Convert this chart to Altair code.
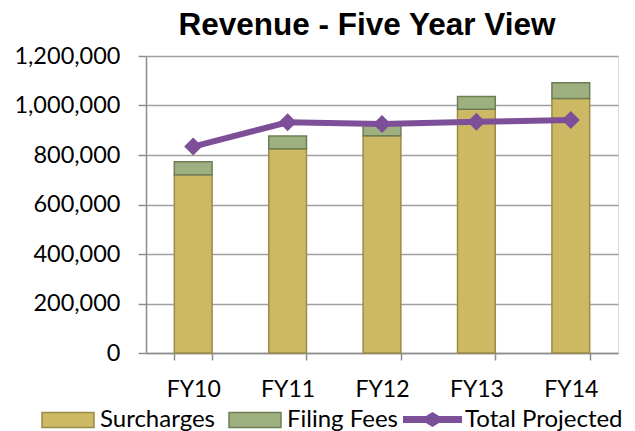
import altair as alt
import pandas as pd

years = ["FY10", "FY11", "FY12", "FY13", "FY14"]
surcharges = [720000, 825000, 878000, 985000, 1028000]
filing_fees = [53000, 52000, 52000, 51000, 64000]
total_projected = [834000, 932000, 925000, 934000, 941000]

bar_series = ["Surcharges", "Filing Fees"]
bar_fill = ["#CDB964", "#9EB080"]
bar_stroke = ["#9A8B48", "#6F7D57"]
line_color = "#7E4F99"

rows = []
for i, y in enumerate(years):
    rows.append({"year": y, "series": "Surcharges", "value": surcharges[i], "ord": 0})
    rows.append({"year": y, "series": "Filing Fees", "value": filing_fees[i], "ord": 1})
bars_df = pd.DataFrame(rows)
line_df = pd.DataFrame({"year": years, "value": total_projected, "series": ["Total Projected"] * len(years)})

FONT = "Lato"

x_enc = alt.X(
    "year:N",
    sort=years,
    title=None,
    scale=alt.Scale(paddingInner=0.6, paddingOuter=0.3),
    axis=alt.Axis(
        labelAngle=0, labelFont=FONT, labelFontSize=23, labelColor="#000000",
        labelPadding=18, tickBand="extent", tickSize=7, tickColor="#8C8C8C",
        tickWidth=1.5, domainColor="#8C8C8C", domainWidth=1.5, grid=False,
    ),
)
y_scale = alt.Scale(domain=[0, 1200000], nice=False)
y_axis = alt.Axis(
    values=[0, 200000, 400000, 600000, 800000, 1000000, 1200000],
    format=",.0f", labelFont=FONT, labelFontSize=23.5, labelColor="#000000",
    labelPadding=18, tickSize=8, tickColor="#8C8C8C", tickWidth=1.5,
    domainColor="#8C8C8C", domainWidth=1.5, grid=True, gridColor="#A0A0A0",
    gridWidth=1.5,
)

rect_path = "M-1,-0.288H1V0.288H-1Z"
bar_legend = alt.Legend(
    title=None, orient="none", legendX=-105, legendY=337, direction="horizontal",
    symbolType=rect_path, symbolSize=2704, symbolStrokeWidth=1.5,
    labelFont=FONT, labelFontSize=24, labelColor="#000000", labelOffset=5,
    columnPadding=11, padding=0,
)

bars = alt.Chart(bars_df).mark_bar(strokeWidth=1.5).encode(
    x=x_enc,
    y=alt.Y("sum(value):Q", title=None, scale=y_scale, axis=y_axis, stack="zero"),
    fill=alt.Fill("series:N", scale=alt.Scale(domain=bar_series, range=bar_fill), legend=bar_legend),
    stroke=alt.Stroke("series:N", scale=alt.Scale(domain=bar_series, range=bar_stroke), legend=bar_legend),
    order=alt.Order("ord:Q"),
)

line = alt.Chart(line_df).mark_line(strokeWidth=6, color=line_color).encode(
    x=alt.X("year:N", sort=years),
    y=alt.Y("value:Q"),
)

diamond_path = "M-1,-0.12H-0.22L0,-0.254L0.22,-0.12H1V0.12H0.22L0,0.254L-0.22,0.12H-1Z"
points = alt.Chart(line_df).mark_point(shape="diamond", filled=True, size=324, opacity=1).encode(
    x=alt.X("year:N", sort=years),
    y=alt.Y("value:Q"),
    color=alt.Color(
        "series:N",
        scale=alt.Scale(domain=["Total Projected"], range=[line_color]),
        legend=alt.Legend(
            title=None, orient="none", legendX=257, legendY=334,
            symbolType=diamond_path, symbolSize=3481, symbolStrokeWidth=0,
            symbolOpacity=1, labelFont=FONT, labelFontSize=24,
            labelColor="#000000", labelOffset=3, padding=0,
        ),
    ),
)

chart = alt.layer(bars, line, points).properties(
    width=472,
    height=297,
    title=alt.TitleParams(
        "Revenue - Five Year View", font="Liberation Sans", fontSize=31.5,
        fontWeight="bold", color="#000000", anchor="middle", dx=-15, offset=3,
    ),
    padding={"left": 138, "top": 48, "right": 9, "bottom": 78},
    autosize=alt.AutoSizeParams(type="none"),
).configure_view(stroke=None).configure(background="#FFFFFF")

chart.save("out.html", embed_options={"renderer": "svg", "actions": False})
